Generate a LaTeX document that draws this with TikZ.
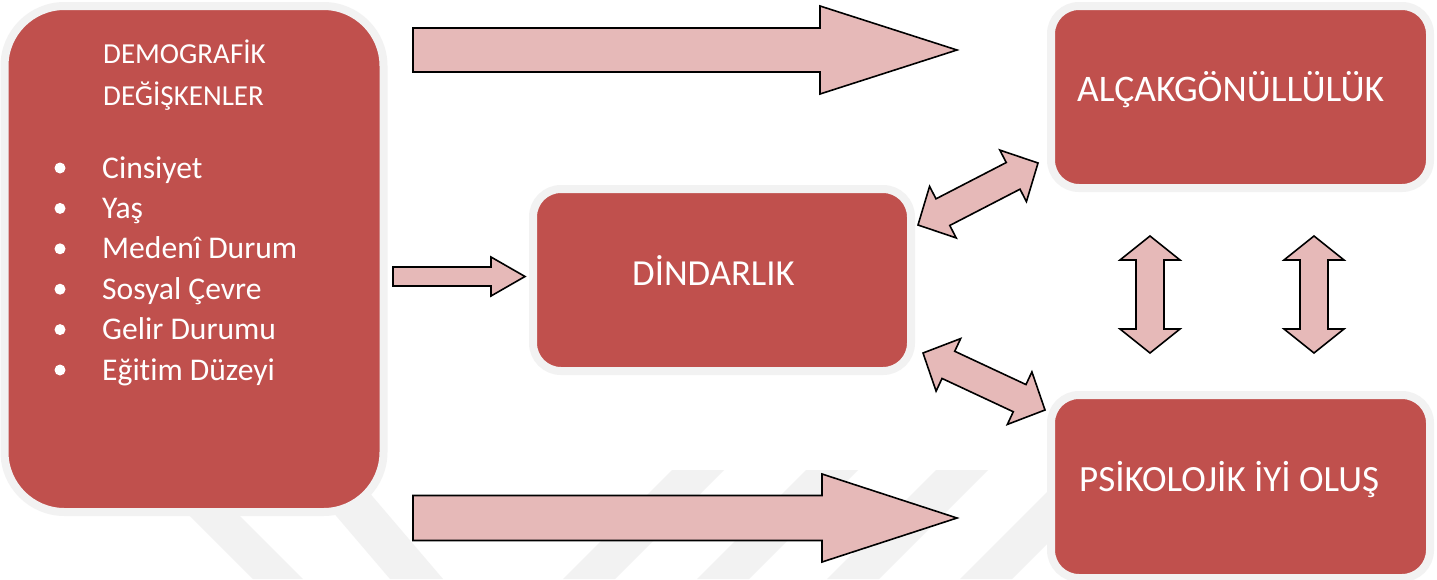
\documentclass[tikz,border=0pt]{standalone}
\usepackage{fontspec}
\setmainfont{Carlito}[Ligatures=NoCommon]
\usetikzlibrary{calc}

\definecolor{boxred}{HTML}{C0504D}
\definecolor{boxrim}{HTML}{F2F2F2}
\definecolor{okpembe}{HTML}{E6B9B8}

\newcommand{\tekok}[5]{%
  \coordinate (hb) at ($(#2)!#5!(#1)$);
  \draw[okblok] ($(#1)!#3!90:(#2)$) -- ($(hb)!#3!90:(#2)$) -- ($(hb)!#4!90:(#2)$) -- (#2)
    -- ($(hb)!#4!-90:(#2)$) -- ($(hb)!#3!-90:(#2)$) -- ($(#1)!#3!-90:(#2)$) -- cycle;}
\newcommand{\ciftok}[5]{%
  \coordinate (ha) at ($(#1)!#5!(#2)$);
  \coordinate (hb) at ($(#2)!#5!(#1)$);
  \draw[okblok] (#1) -- ($(ha)!#4!90:(#2)$) -- ($(ha)!#3!90:(#2)$) -- ($(hb)!#3!90:(#2)$)
    -- ($(hb)!#4!90:(#2)$) -- (#2) -- ($(hb)!#4!-90:(#2)$) -- ($(hb)!#3!-90:(#2)$)
    -- ($(ha)!#3!-90:(#2)$) -- ($(ha)!#4!-90:(#2)$) -- cycle;}

\begin{document}
\begin{tikzpicture}[x=1pt,y=-1pt,
    kutu/.style={fill=boxred,draw=boxrim,line width=8pt,inner sep=0pt,rounded corners=28pt},
    yazi/.style={text=white,anchor=base west,inner sep=0pt},
    okblok/.style={fill=okpembe,draw=black,line width=1.6pt,line join=miter}]
  \fill[white] (0,0) rectangle (1437,579);
  \useasboundingbox (0,0) rectangle (1437,579);

  \fill[black!5] (144,470) -- (194,470) -- (303,579) -- (253,579) -- cycle;
  \fill[black!5] (297,470) -- (350,470) -- (443,579) -- (390,579) -- cycle;
  \foreach \sx in {563,697,827,960}
    \fill[black!5] (\sx,579) -- (\sx+52,579) -- (\sx+161,470) -- (\sx+109,470) -- cycle;

  \node[kutu,rounded corners=60pt,minimum width=379pt,minimum height=506pt] (demo) at (194,259) {};
  \node[kutu,minimum width=378pt,minimum height=182pt] (din) at (722,280) {};
  \node[kutu,minimum width=379pt,minimum height=182pt] (alcak) at (1240.5,97) {};
  \node[kutu,minimum width=379pt,minimum height=183pt] (psiko) at (1240.5,486.5) {};

  \node[yazi,font=\fontsize{29}{35}\selectfont] (baslik1) at (103,63.5) {DEMOGRAFİK};
  \node[yazi,font=\fontsize{29}{35}\selectfont] (baslik2) at (103,105) {DEĞİŞKENLER};
  \foreach \madde [count=\i] in {Cinsiyet,Yaş,Medenî Durum,Sosyal Çevre,Gelir Durumu,Eğitim Düzeyi} {
    \fill[white] (60,{168+40.4*(\i-1)}) circle (5.5);
    \node[yazi,font=\fontsize{31.6}{38}\selectfont] (madde\i) at (102,{178+40.4*(\i-1)}) {\madde};
  }
  \node[yazi,font=\fontsize{36.7}{44}\selectfont] (din-yazi) at (632,285) {DİNDARLIK};
  \node[yazi,font=\fontsize{37.5}{44}\selectfont] (alcak-yazi) at (1077,101.5) {ALÇAKGÖNÜLLÜLÜK};
  \node[yazi,font=\fontsize{37}{44}\selectfont] (psiko-yazi) at (1079,491) {PSİKOLOJİK İYİ OLUŞ};

  \coordinate (ust-bas) at (413,50);
  \coordinate (ust-uc) at (957,50);
  \coordinate (orta-bas) at (393,276.5);
  \coordinate (orta-uc) at (525,276.5);
  \coordinate (alt-bas) at (413,518);
  \coordinate (alt-uc) at (957,518);
  \tekok{ust-bas}{ust-uc}{22pt}{44pt}{137pt}
  \tekok{orta-bas}{orta-uc}{9.5pt}{19.5pt}{34pt}
  \tekok{alt-bas}{alt-uc}{22.5pt}{44pt}{135pt}

  \coordinate (din-ust) at (918,225);
  \coordinate (alcak-sol) at (1038,163);
  \coordinate (din-alt) at (923,353);
  \coordinate (psiko-sol) at (1045,410);
  \ciftok{din-ust}{alcak-sol}{15pt}{29pt}{28pt}
  \ciftok{din-alt}{psiko-sol}{15pt}{29pt}{28pt}

  \coordinate (sol-ust) at (1150,236);
  \coordinate (sol-alt) at (1150,353);
  \coordinate (sag-ust) at (1314,236);
  \coordinate (sag-alt) at (1314,353);
  \ciftok{sol-ust}{sol-alt}{14pt}{30pt}{24pt}
  \ciftok{sag-ust}{sag-alt}{14pt}{30pt}{24pt}
\end{tikzpicture}
\end{document}
